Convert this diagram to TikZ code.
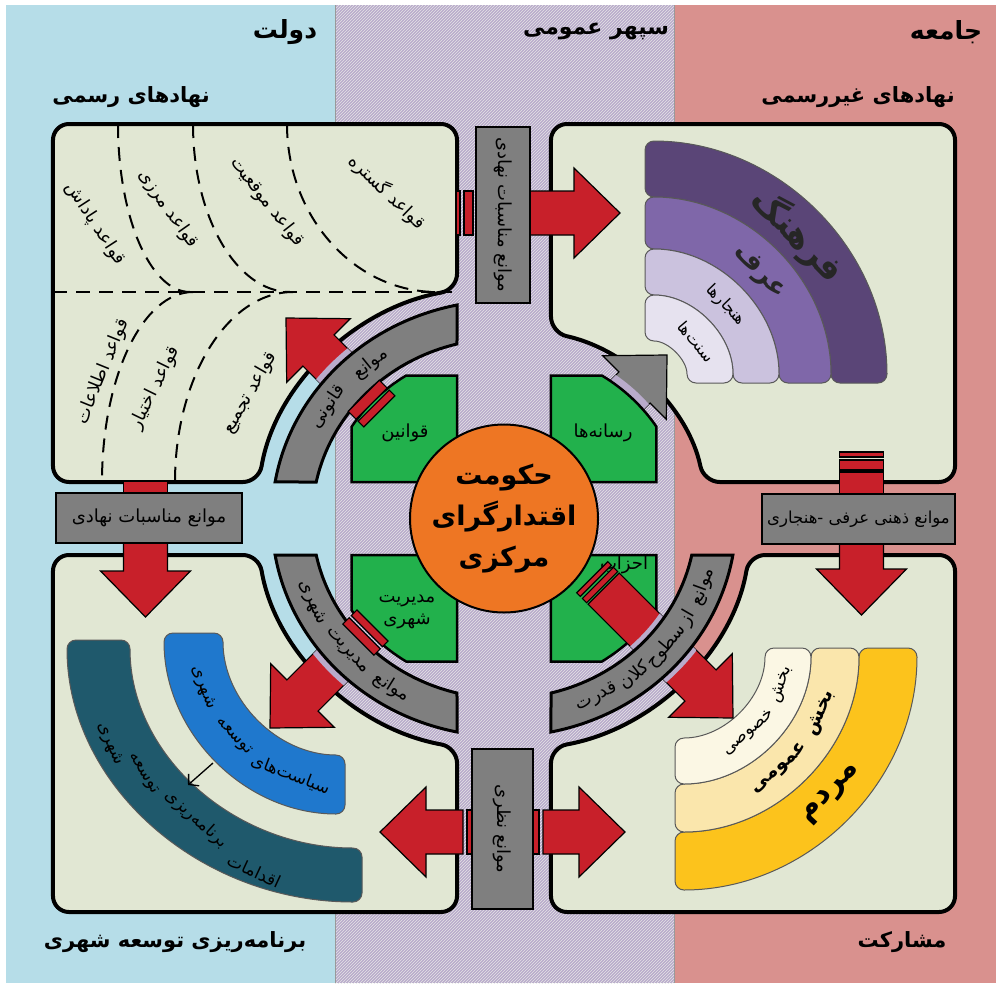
\documentclass[tikz,border=0pt]{standalone}
\usepackage{fontspec}
\newfontfamily\fa[Script=Arabic]{DejaVu Sans}
\TeXXeTstate=1
\usetikzlibrary{calc,arrows.meta,patterns}

\definecolor{Sky}{HTML}{B6DDE8}
\definecolor{Lilac}{HTML}{B9ABCB}
\definecolor{Rose}{HTML}{D9918E}
\definecolor{Paper}{HTML}{E1E7D3}
\definecolor{Steel}{HTML}{7F7F7F}
\definecolor{Brick}{HTML}{C8202A}
\definecolor{Leaf}{HTML}{22B14C}
\definecolor{Pumpkin}{HTML}{EE7623}
\definecolor{Plum}{HTML}{5A4577}
\definecolor{Violet}{HTML}{7F67A9}
\definecolor{Mauve}{HTML}{CBC2DE}
\definecolor{Mist}{HTML}{E6E2EF}
\definecolor{Gold}{HTML}{FCC31C}
\definecolor{Sand}{HTML}{FAE6AC}
\definecolor{Ivory}{HTML}{FBF7E4}
\definecolor{Azure}{HTML}{1F78CD}
\definecolor{Teal}{HTML}{1F596C}

\newcommand{\rtl}[1]{\beginR#1\endR}
% block arrow, tip at the origin, pointing along +x
\newcommand{\blockarrow}[1]{(0,0) -- (-46,45) -- (-46,22) -- (-#1,22) -- (-#1,-22) -- (-46,-22) -- (-46,-45) -- cycle}
% gray ring pieces and one green quarter, relative to the hub
\newcommand{\ringTL}{(-44.1,-213.5) arc[start angle=258.33,end angle=189.64,radius=218] -- (-176.3,-36.5) arc[start angle=191.70,end angle=255.82,radius=180] -- cycle}
\newcommand{\ringBL}{(-44.1,213.5) arc[start angle=101.67,end angle=170.36,radius=218] -- (-176.3,36.5) arc[start angle=168.30,end angle=104.18,radius=180] -- cycle}
\newcommand{\ringBR}{(44.1,213.5) arc[start angle=78.33,end angle=9.64,radius=218] -- (176.3,36.5) arc[start angle=11.70,end angle=75.82,radius=180] -- cycle}
\newcommand{\leafTR}{(44.1,-36.5) -- (44.1,-143) -- (91.9,-143) arc[start angle=302.7,end angle=327.3,radius=170] -- (143,-36.5) -- cycle}
% curved band: centre, from, to, inner, outer, style
\newcommand{\ringband}[6]{\draw[#6] ($(#1)+(#2:#5)$) arc[start angle=#2,end angle=#3,radius=#5] -- ($(#1)+(#3:#4)$) arc[start angle=#3,end angle=#2,radius=#4] -- cycle;}

\begin{document}
\begin{tikzpicture}[x=1pt,y=-1pt,
box/.style={fill=Paper,draw=black,line width=4,rounded corners=16},
bar/.style={fill=Steel,draw=black,line width=2,inner sep=0},
ring/.style={fill=Steel,draw=black,line width=3},
leaf/.style={fill=Leaf,draw=black,line width=2.5},
halo/.style={Lilac,line width=#1,shift={(C)},xscale=1.065},
seg/.style={fill=#1,draw=black!65,line width=1,rounded corners=9},
arw/.style={fill=#1,draw=black,line width=1.2},arw/.default=Brick,
rule/.style={dash pattern=on 14pt off 9pt,line width=2},
lbl/.style={font=\fa\fontsize{16}{18}\selectfont,inner sep=0},
cl/.style={font=\fa\fontsize{17}{18}\selectfont,inner sep=0},
rl/.style={font=\fa\fontsize{18}{20}\selectfont,inner sep=0},
hd/.style={font=\fa\bfseries\fontsize{#1}{#1}\selectfont,inner sep=0}]
\useasboundingbox (0,0) rectangle (996,983);
\fill[white] (0,0) rectangle (996,983);
\fill[Sky] (6,5) rectangle (335,983);
\fill[Lilac] (335,5) rectangle (674,983);
\fill[pattern=north east lines,pattern color=black!10] (335,5) rectangle (674,983);
\fill[Rose] (674,5) rectangle (996,983);
\draw[black!40] (335,5) -- (335,983) (674,5) -- (674,983);
\coordinate (C) at (504,518.5);
\coordinate (O1) at (645,383);
\coordinate (O3) at (675,648);
\coordinate (Ob) at (345,633);
\coordinate (Ot) at (362,640);

% quadrant boxes, hub stretched a little sideways
\begin{scope}[shift={(C)},xscale=1.065]
\draw[box] (-423.5,-394.5) -- (-44.1,-394.5) -- (-44.1,-228.8) arc[start angle=259.09,end angle=189.01,radius=233] -- (-423.5,-36.5) -- cycle;
\draw[box] (44.1,-394.5) -- (423.5,-394.5) -- (423.5,-36.5) -- (187.5,-36.5) arc[start angle=348.98,end angle=283.35,radius=191] -- cycle;
\draw[box] (-423.5,36.5) -- (-230.1,36.5) arc[start angle=170.99,end angle=100.91,radius=233] -- (-44.1,393.5) -- (-423.5,393.5) -- cycle;
\draw[box] (44.1,393.5) -- (44.1,228.8) arc[start angle=79.09,end angle=9.01,radius=233] -- (423.5,36.5) -- (423.5,393.5) -- cycle;
\end{scope}

% rules of the formal institutions
\draw[rule] (53,292) -- (452,292);
\draw[rule] (118,124) arc[start angle=180,end angle=90,x radius=72,y radius=168];
\draw[rule] (193,124) arc[start angle=180,end angle=90,x radius=97,y radius=168];
\draw[rule] (287,124) arc[start angle=180,end angle=90,x radius=150,y radius=168];
\draw[rule] (193,292) arc[start angle=270,end angle=180,x radius=91,y radius=190];
\draw[rule] (293,292) arc[start angle=270,end angle=180,x radius=118,y radius=190];
\node[rl,rotate=-44] (gostare) at (387,192) {\rtl{قواعد گستره}};
\node[rl,rotate=-52] (mowqeiat) at (267,202) {\rtl{قواعد موقعیت}};
\node[rl,rotate=-55] (marzi) at (168,209) {\rtl{قواعد مرزی}};
\node[rl,rotate=-57] (padash) at (95,224) {\rtl{قواعد پاداش}};
\node[rl,rotate=68] (ettelaat) at (103,372) {\rtl{قواعد اطلاعات}};
\node[rl,rotate=64] (ekhtiar) at (155,388) {\rtl{قواعد اختیار}};
\node[rl,rotate=60] (tajmi) at (250,393) {\rtl{قواعد تجمیع}};

% culture bands
\ringband{O1}{270}{360}{186}{242}{seg=Plum}
\ringband{O1}{270}{360}{134}{186}{seg=Violet}
\ringband{O1}{270}{360}{88}{134}{seg=Mauve}
\ringband{O1}{270}{360}{42}{88}{seg=Mist}
\node[hd=34,rotate=-46,text=black!85] (farhang) at ($(O1)+(316:213)$) {\rtl{فرهنگ}};
\node[hd=26,rotate=-46,text=black!85] (orf) at ($(O1)+(316:159)$) {\rtl{عرف}};
\node[lbl,rotate=-46] (hanjar) at ($(O1)+(316:112)$) {\rtl{هنجارها}};
\node[lbl,rotate=-50] (sonnat) at ($(O1)+(321:66)$) {\rtl{سنت‌ها}};

% participation bands
\ringband{O3}{0}{90}{184}{242}{seg=Gold}
\ringband{O3}{0}{90}{136}{184}{seg=Sand}
\ringband{O3}{0}{90}{90}{136}{seg=Ivory}
\node[hd=30,rotate=47] (mardom) at ($(O3)+(43:214)$) {\rtl{مردم}};
\foreach \a/\w [count=\i] in {24/بخش,49/عمومی}
  \node[hd=19,rotate=90-\a] (omumi\i) at ($(O3)+(\a:160)$) {\rtl{\w}};
\foreach \a/\w [count=\i] in {19/بخش,49/خصوصی}
  \node[cl,rotate=90-\a] (khosusi\i) at ($(O3)+(\a:113)$) {\rtl{\w}};

% planning bands
\draw[seg=Teal] ($(Ot)+(180:295 and 262)$) arc[start angle=180,end angle=90,x radius=295,y radius=262] -- ($(Ot)+(90:232 and 208)$) arc[start angle=90,end angle=180,x radius=232,y radius=208] -- cycle;
\ringband{Ob}{90}{180}{122}{181}{seg=Azure}
\foreach \a/\w [count=\i] in {111/سیاست‌های,137/توسعه,159/شهری}
  \node[cl,rotate=90-\a] (siasat\i) at ($(Ob)+(\a:152)$) {\rtl{\w}};
\foreach \x/\y/\r/\w [count=\i] in {254/871/-25/اقدامات,196/819/-42/برنامه‌ریزی,143/774/-58/توسعه,110/744/-67/شهری}
  \node[cl,rotate=\r] (eqdam\i) at (\x,\y) {\rtl{\w}};
\coordinate (pol) at (213,763);
\coordinate (act) at (188,785);
\draw[line width=1.3,-{Straight Barb[length=7pt,width=16pt]}] (pol) -- (act);

% straight arrows through the barriers
\draw[arw,shift={(620,213)}] \blockarrow{90};
\draw[arw,shift={(620,213)}] (-147,-22) rectangle (-156,22) (-160,-22) rectangle (-164,22);
\draw[arw,shift={(145.5,617)},rotate=-90] \blockarrow{74};
\draw[arw,shift={(145.5,617)},rotate=-90] (-124,-22) rectangle (-136,22);
\draw[arw,shift={(861.5,615)},rotate=-90] \blockarrow{71};
\draw[arw,shift={(861.5,615)},rotate=-90] (-121,-22) rectangle (-143,22) (-145,-22) rectangle (-155,22) (-158,-22) rectangle (-163,22);
\draw[arw,shift={(380,832)},rotate=180] \blockarrow{83};
\draw[arw,shift={(380,832)},rotate=180] (-87,-22) rectangle (-92,22);
\draw[arw,shift={(625,832)}] \blockarrow{82};
\draw[arw,shift={(625,832)}] (-86,-22) rectangle (-92,22);

% diagonal arrows under the ring
\draw[arw,shift={(286,318)},rotate=135] \blockarrow{95};
\draw[arw,shift={(270,728)},rotate=-135] \blockarrow{110};
\draw[arw=Steel,shift={(667,355)},rotate=45] \blockarrow{110};
\begin{scope}
\clip[shift={(286,318)},rotate=135] \blockarrow{95};
\draw[halo=14] \ringTL;
\end{scope}
\begin{scope}
\clip[shift={(270,728)},rotate=-135] \blockarrow{110};
\draw[halo=14] \ringBL;
\end{scope}
\begin{scope}
\clip[shift={(667,355)},rotate=45] \blockarrow{110};
\draw[halo=16] \leafTR;
\end{scope}

% hub: green quarters
\begin{scope}[shift={(C)},xscale=1.065]
\draw[leaf] (-44.1,-36.5) -- (-44.1,-143) -- (-91.9,-143) arc[start angle=237.3,end angle=212.7,radius=170] -- (-143,-36.5) -- cycle;
\draw[leaf] \leafTR;
\draw[leaf] (-44.1,36.5) -- (-44.1,143) -- (-91.9,143) arc[start angle=122.7,end angle=147.3,radius=170] -- (-143,36.5) -- cycle;
\draw[leaf] (44.1,36.5) -- (44.1,143) -- (91.9,143) arc[start angle=57.3,end angle=32.7,radius=170] -- (143,36.5) -- cycle;
\end{scope}
\node[rl] (qavanin) at (405,433) {\rtl{قوانین}};
\node[rl] (resane) at (603,433) {\rtl{رسانه‌ها}};
\node[rl,font=\fa\fontsize{18}{22}\selectfont,align=center] (modiriat) at (407,612) {\rtl{مدیریت}\\\rtl{شهری}};
\node[rl] (ahzab) at (624,565) {\rtl{احزاب}};

% arrow from the parties, passing under the ring
\draw[arw,shift={(733,718)},rotate=-45] \blockarrow{183};
\begin{scope}
\clip[shift={(733,718)},rotate=-45] \blockarrow{183};
\draw[halo=12] \ringBR;
\end{scope}

% gray ring
\begin{scope}[shift={(C)},xscale=1.065]
\draw[ring] \ringTL;
\draw[ring] \ringBL;
\draw[ring] \ringBR;
\foreach \a/\w [count=\i] in {231/موانع,214/قانونی}
  \node[rl,rotate=-90-\a] (qanuni\i) at (\a:199) {\rtl{\w}};
\foreach \a/\w [count=\i] in {122/موانع,138/مدیریت,155/شهری}
  \node[rl,rotate=90-\a] (shahri\i) at (\a:199) {\rtl{\w}};
\foreach \a/\w [count=\i] in {20/موانع,30/از,40/سطوح,52/کلان,64/قدرت}
  \node[rl,rotate=90-\a] (qodrat\i) at (\a:199) {\rtl{\w}};
\end{scope}

% bars of the diagonal arrows
\draw[arw,shift={(733,718)},rotate=-45] (-185,-22) rectangle (-191,22) (-194,-22) rectangle (-199,22);
\draw[arw,shift={(286,318)},rotate=135] (-110,-22) rectangle (-121,22) (-124,-22) rectangle (-132,22);
\draw[arw,shift={(270,728)},rotate=-135] (-125,-22) rectangle (-134,22) (-137,-22) rectangle (-145,22);

\node[circle,fill=Pumpkin,draw=black,line width=2,minimum size=188,inner sep=0,align=center,font=\fa\bfseries\fontsize{27}{41}\selectfont] (core) at (C) {\rtl{حکومت}\\\rtl{اقتدارگرای}\\\rtl{مرکزی}};

% barriers
\node[bar,rl,rotate=-90,minimum width=176,minimum height=54] (mtop) at (503,215) {\rtl{موانع مناسبات نهادی}};
\node[bar,rl,minimum width=186,minimum height=50] (mleft) at (149,518) {\rtl{موانع مناسبات نهادی}};
\node[bar,lbl,font=\fa\fontsize{16.5}{18}\selectfont,minimum width=193,minimum height=50] (mright) at (858.5,519) {\rtl{موانع ذهنی عرفی -هنجاری}};
\node[bar,rl,rotate=-90,minimum width=160,minimum height=61] (mbot) at (502.5,829) {\rtl{موانع نظری}};

% headings
\node[hd=25] (dowlat) at (285,32) {\rtl{دولت}};
\node[hd=22] (sepehr) at (596,31) {\rtl{سپهر عمومی}};
\node[hd=25] (jameh) at (946,32) {\rtl{جامعه}};
\node[hd=21] (rasmi) at (131,97) {\rtl{نهادهای رسمی}};
\node[hd=21] (gheyr) at (858,97) {\rtl{نهادهای غیررسمی}};
\node[hd=21] (barname) at (175,942) {\rtl{برنامه‌ریزی توسعه شهری}};
\node[hd=21] (mosharekat) at (902,942) {\rtl{مشارکت}};
\end{tikzpicture}
\end{document}
